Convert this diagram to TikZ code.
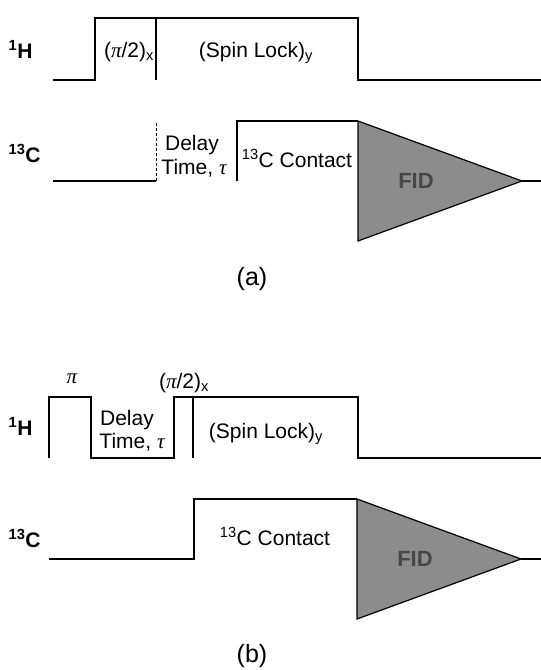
\documentclass[tikz,border=0pt]{standalone}
\usepackage{fontspec}
\setmainfont{Liberation Sans}
\newfontfamily\grkfont{Liberation Serif}
\definecolor{fidgray}{gray}{0.55}
\newcommand{\gpi}{{\grkfont\itshape π}}
\newcommand{\gtau}{{\grkfont\itshape τ}}
\newcommand{\fidtri}[3]{\filldraw[fill=fidgray] (#1,#2) -- (#1,#2+120) -- (#1+164,#2+60) -- cycle;
  \draw (#1+164,#2+60) -- (541,#2+60);
  \node[fidlabel] (#3) at (#1+58,#2+67) {FID};}

\begin{document}
\begin{tikzpicture}[x=1pt,y=-1pt,line width=1.2pt,inner sep=0pt,
  font=\fontsize{21}{24}\selectfont,
  nuc/.style={anchor=base west,font=\fontsize{21}{24}\selectfont\bfseries},
  txt/.style={anchor=base},
  fidlabel/.style={anchor=base,text=black!72,font=\fontsize{22}{24}\selectfont\bfseries},
  panel/.style={anchor=base,font=\fontsize{25}{28}\selectfont}]
  \useasboundingbox (0,0) rectangle (541,670);
  % (a)
  \node[nuc] (Ha) at (8,58) {\textsuperscript{1}H};
  \node[nuc] (Ca) at (8,162) {\textsuperscript{13}C};
  \draw (53,80) -- (95,80) -- (95,18) -- (358,18) -- (358,80) -- (541,80);
  \draw (156,18) -- (156,80);
  \draw (53,181) -- (156,181);
  \draw[dashed,line width=.6pt,dash pattern=on 3pt off 2pt] (156,181) -- (156,122);
  \draw (237,181) -- (237,121) -- (358,121);
  \fidtri{358}{121}{fidA}
  \node[txt] (pulseA) at (129,57) {(\gpi/2)\textsubscript{x}};
  \node[txt] (lockA) at (256,57) {(Spin Lock)\textsubscript{y}};
  \node[txt] (delayA) at (192,150) {Delay};
  \node[txt] (timeA) at (194,174) {Time, \gtau};
  \node[txt] (contactA) at (297,167) {\textsuperscript{13}C Contact};
  \node[panel] (capA) at (252,285) {(a)};
  % (b)
  \node[nuc] (Hb) at (8,435) {\textsuperscript{1}H};
  \node[nuc] (Cb) at (8,547) {\textsuperscript{13}C};
  \draw (49,458) -- (49,397) -- (91,397) -- (91,458) -- (174,458) -- (174,397)
    -- (358,397) -- (358,458) -- (541,458);
  \draw (193,397) -- (193,458);
  \draw (49,559) -- (194,559) -- (194,499) -- (357,499);
  \fidtri{357}{499}{fidB}
  \node[txt] (piB) at (72,383) {\gpi};
  \node[txt] (pulseB) at (184,388) {(\gpi/2)\textsubscript{x}};
  \node[txt] (delayB) at (127,425) {Delay};
  \node[txt] (timeB) at (132,448) {Time, \gtau};
  \node[txt] (lockB) at (266,438) {(Spin Lock)\textsubscript{y}};
  \node[txt] (contactB) at (275,545) {\textsuperscript{13}C Contact};
  \node[panel] (capB) at (252,662) {(b)};
\end{tikzpicture}
\end{document}
